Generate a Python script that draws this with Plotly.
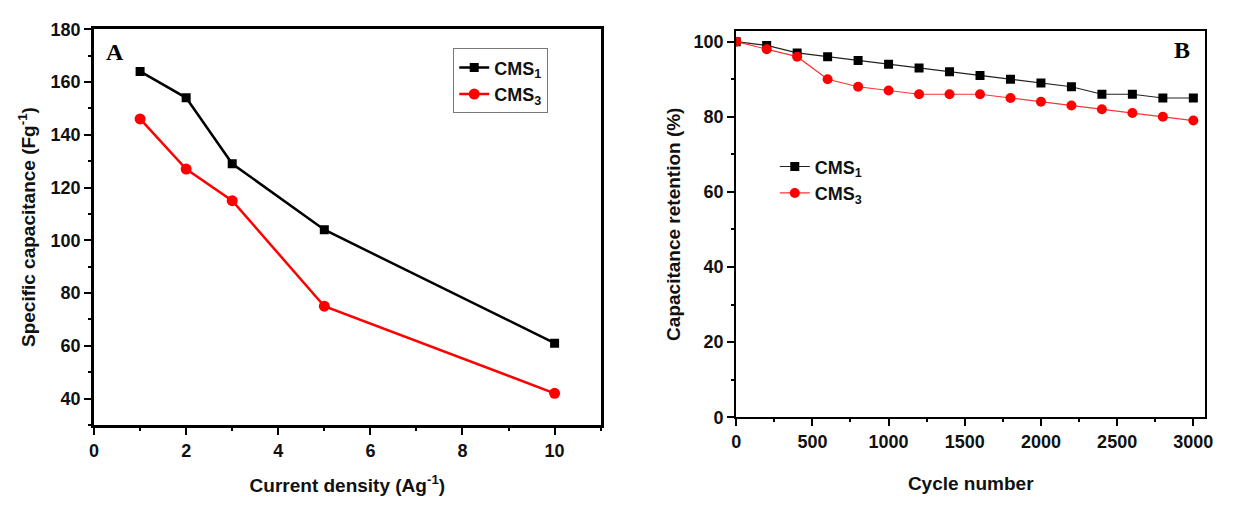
import plotly.graph_objects as go

# Panel A data
current_density = [1, 2, 3, 5, 10]
cms1_capacitance = [164, 154, 129, 104, 61]
cms3_capacitance = [146, 127, 115, 75, 42]

# Panel B data
cycles = [0, 200, 400, 600, 800, 1000, 1200, 1400, 1600, 1800, 2000, 2200, 2400, 2600, 2800, 3000]
cms1_retention = [100, 99, 97, 96, 95, 94, 93, 92, 91, 90, 89, 88, 86, 86, 85, 85]
cms3_retention = [100, 98, 96, 90, 88, 87, 86, 86, 86, 85, 84, 83, 82, 81, 80, 79]

W, H = 1233, 507
FONT = "Liberation Sans, Arial, sans-serif"

fig = go.Figure()

fig.add_trace(go.Scatter(x=current_density, y=cms1_capacitance, mode="lines+markers",
                         name="CMS<sub>1</sub>", line=dict(color="black", width=2.5),
                         marker=dict(symbol="square", size=9, color="black"),
                         xaxis="x", yaxis="y", legend="legend"))
fig.add_trace(go.Scatter(x=current_density, y=cms3_capacitance, mode="lines+markers",
                         name="CMS<sub>3</sub>", line=dict(color="#ff0000", width=2.5),
                         marker=dict(symbol="circle", size=11, color="#ff0000"),
                         xaxis="x", yaxis="y", legend="legend"))

fig.add_trace(go.Scatter(x=cycles, y=cms1_retention, mode="lines+markers",
                         name="CMS<sub>1</sub>", line=dict(color="#222222", width=1.2),
                         marker=dict(symbol="square", size=9, color="black"),
                         xaxis="x2", yaxis="y2", legend="legend2"))
fig.add_trace(go.Scatter(x=cycles, y=cms3_retention, mode="lines+markers",
                         name="CMS<sub>3</sub>", line=dict(color="#ff3333", width=1.2),
                         marker=dict(symbol="circle", size=10, color="#ff0000"),
                         xaxis="x2", yaxis="y2", legend="legend2"))

tickfont = dict(family=FONT, size=18, color="#111111", weight="bold")
titlefont = dict(family=FONT, size=19, color="#111111", weight="bold")

def ax(domain, rng, dtick, minor_dtick, anchor, title, lw, standoff):
    return dict(domain=domain, range=rng, dtick=dtick, tick0=0, anchor=anchor,
                showline=True, mirror=True, linecolor="black", linewidth=lw,
                ticks="outside", ticklen=7, tickwidth=2, tickcolor="black",
                minor=dict(ticks="outside", ticklen=3, tickwidth=1.5, dtick=minor_dtick, tickcolor="black"),
                showgrid=False, zeroline=False, tickfont=tickfont,
                title=dict(text=title, font=titlefont, standoff=standoff))

fig.update_layout(
    width=W, height=H, margin=dict(l=0, r=0, t=0, b=0),
    paper_bgcolor="white", plot_bgcolor="white",
    xaxis=ax([90/W, 602/W], [0, 11], 2, 1, "y", "Current density (Ag<sup>-1</sup>)", 3, 20),
    yaxis=ax([(H-432)/H, (H-20)/H], [30, 180], 20, 10, "x", "Specific capacitance (Fg<sup>-1</sup>)", 3, 10),
    xaxis2=ax([739/W, 1213/W], [0, 3078], 500, 250, "y2", "Cycle number", 2, 26),
    yaxis2=ax([(H-424)/H, (H-22)/H], [0, 102.8], 20, 10, "x2", "Capacitance retention (%)", 2, 8),
    legend=dict(x=453/W, y=(H-40)/H, xanchor="left", yanchor="top",
                bordercolor="#777777", borderwidth=1, bgcolor="white",
                font=dict(family=FONT, size=18, color="#111111", weight="bold"),
                tracegroupgap=2),
    legend2=dict(x=778/W, y=(H-144)/H, xanchor="left", yanchor="top",
                 borderwidth=0, bgcolor="rgba(0,0,0,0)",
                 font=dict(family=FONT, size=18, color="#111111", weight="bold")),
    showlegend=True,
)

fig.add_annotation(text="<b>A</b>", x=100/W, y=(H-28)/H, xref="paper", yref="paper",
                   xanchor="left", yanchor="top", showarrow=False,
                   font=dict(family="Liberation Serif, Times New Roman, serif", size=24, color="black"))
fig.add_annotation(text="<b>B</b>", x=1200/W, y=(H-26)/H, xref="paper", yref="paper",
                   xanchor="right", yanchor="top", showarrow=False,
                   font=dict(family="Liberation Serif, Times New Roman, serif", size=24, color="black"))

fig.write_html("out.html")
